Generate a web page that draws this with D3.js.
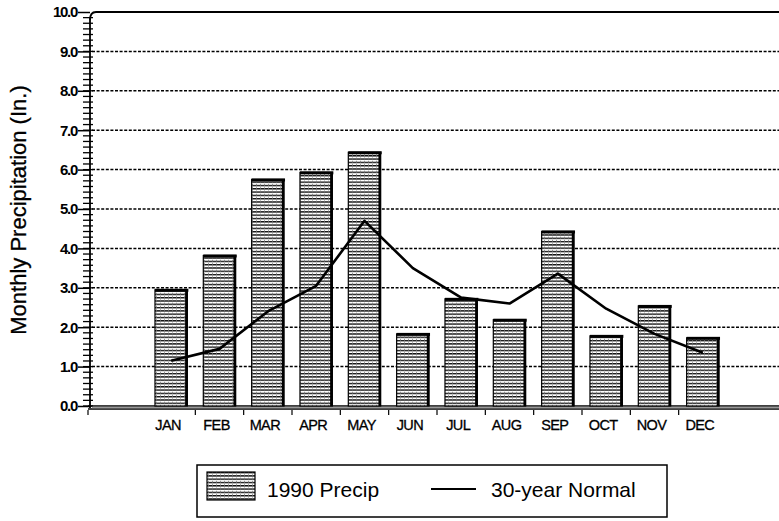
<!DOCTYPE html>
<html>
<head>
<meta charset="utf-8">
<script src="https://cdn.jsdelivr.net/npm/d3@7"></script>
<style>
  body { margin: 0; background: #fff; }
  svg { display: block; font-family: "Liberation Sans", Arial, sans-serif; }
</style>
</head>
<body>
<script>
// data
var months = ["JAN","FEB","MAR","APR","MAY","JUN","JUL","AUG","SEP","OCT","NOV","DEC"];
var precip1990 = [2.95, 3.82, 5.75, 5.93, 6.44, 1.83, 2.72, 2.19, 4.43, 1.78, 2.54, 1.73];
var normal30 = [1.15, 1.45, 2.4, 3.05, 4.7, 3.5, 2.75, 2.6, 3.36, 2.47, 1.83, 1.35];
var yTicks = [0,1,2,3,4,5,6,7,8,9,10];
var seriesNames = ["1990 Precip", "30-year Normal"];

var W = 779, H = 521;
var svg = d3.select("body").append("svg").attr("width", W).attr("height", H);

var defs = svg.append("defs");
var pat = defs.append("pattern").attr("id","hatch")
  .attr("patternUnits","userSpaceOnUse").attr("width",4).attr("height",3.3);
pat.append("rect").attr("width",4).attr("height",3.3).attr("fill","#fff");
pat.append("line").attr("x1",0).attr("x2",4).attr("y1",0.7).attr("y2",0.7)
  .attr("stroke","#000").attr("stroke-width",1.3);
pat.append("line").attr("x1",0.5).attr("x2",0.5).attr("y1",0).attr("y2",3.3)
  .attr("stroke","#777").attr("stroke-width",0.7).attr("stroke-dasharray","1,1.3");

var axisX = 90, plotTop = 12, base = 406;
var y = d3.scaleLinear().domain([0,10]).range([base, plotTop]);
var x = d3.scaleBand().domain(months).range([147, 727]).padding(0);
var barW = x.bandwidth() * 0.67;

// gridlines
svg.append("g").selectAll("line").data(yTicks.filter(function(d){ return d>0 && d<10; }))
  .enter().append("line")
  .attr("x1", axisX+2).attr("x2", W)
  .attr("y1", function(d){ return y(d); }).attr("y2", function(d){ return y(d); })
  .attr("stroke","#000").attr("stroke-width",1.5).attr("stroke-dasharray","3,1.6");

// top border with rounded corner
svg.append("path")
  .attr("d", "M"+axisX+","+(plotTop+8)+" Q"+axisX+","+plotTop+" "+(axisX+6)+","+plotTop+" L"+W+","+plotTop)
  .attr("fill","none").attr("stroke","#000").attr("stroke-width",1.8);

// y axis
var yAxis = d3.axisLeft(y).tickValues(yTicks).tickFormat(d3.format(".1f")).tickSize(12).tickPadding(1);
var gy = svg.append("g").attr("transform","translate("+axisX+",0)").call(yAxis);
gy.select(".domain").remove();
gy.selectAll(".tick line").attr("stroke","#000").attr("stroke-width",1.5);
gy.selectAll(".tick text").attr("fill","#000").attr("font-size",15).attr("font-weight","bold")
  .attr("letter-spacing",-1.3);
svg.append("line").attr("x1",axisX).attr("x2",axisX).attr("y1",plotTop+6).attr("y2",base+2)
  .attr("stroke","#000").attr("stroke-width",1.8);
// minor ticks
var minor = d3.range(0, 70).map(function(i){ return i/7; });
svg.append("g").selectAll("line").data(minor).enter().append("line")
  .attr("x1", axisX-7).attr("x2", axisX+3)
  .attr("y1", function(d){ return y(d); }).attr("y2", function(d){ return y(d); })
  .attr("stroke","#000").attr("stroke-width",1.3);

// floor
svg.append("line").attr("x1",axisX-2).attr("x2",W).attr("y1",base).attr("y2",base)
  .attr("stroke","#000").attr("stroke-width",1.6);
svg.append("line").attr("x1",axisX-2).attr("x2",W).attr("y1",base+3).attr("y2",base+3)
  .attr("stroke","#000").attr("stroke-width",1.4);
svg.append("line").attr("x1",axisX+2).attr("x2",W).attr("y1",base+1.5).attr("y2",base+1.5)
  .attr("stroke","#999").attr("stroke-width",1.5);

// x axis: labels at centres, ticks at boundaries
var xAxis = d3.axisBottom(x).tickSize(0).tickPadding(11);
var gx = svg.append("g").attr("transform","translate(-3,"+(base+3)+")").call(xAxis);
gx.select(".domain").remove();
gx.selectAll(".tick text").attr("fill","#000").attr("font-size",14.5).attr("letter-spacing",-0.6)
  .attr("stroke","#000").attr("stroke-width",0.3);
svg.append("g").selectAll("line").data(months.slice(1)).enter().append("line")
  .attr("x1", function(d){ return x(d); }).attr("x2", function(d){ return x(d); })
  .attr("y1", base+4).attr("y2", base+9)
  .attr("stroke","#000").attr("stroke-width",1.2);
svg.append("line").attr("x1",axisX-2).attr("x2",axisX-2).attr("y1",base+4).attr("y2",base+9)
  .attr("stroke","#000").attr("stroke-width",1.2);

// bars
var bars = svg.append("g").selectAll("g").data(precip1990).enter().append("g");
bars.append("rect")
  .attr("x", function(d,i){ return x(months[i]) + (x.bandwidth()-barW)/2; })
  .attr("y", function(d){ return y(d); })
  .attr("width", barW)
  .attr("height", function(d){ return base - y(d); })
  .attr("fill","url(#hatch)").attr("stroke","#000").attr("stroke-width",1.2);
bars.append("rect")
  .attr("x", function(d,i){ return x(months[i]) + (x.bandwidth()-barW)/2; })
  .attr("y", function(d){ return y(d) - 1; })
  .attr("width", barW + 1)
  .attr("height", 3)
  .attr("fill","#000");
bars.append("line")
  .attr("x1", function(d,i){ return x(months[i]) + (x.bandwidth()+barW)/2 - 1; })
  .attr("x2", function(d,i){ return x(months[i]) + (x.bandwidth()+barW)/2 - 1; })
  .attr("y1", function(d){ return y(d); })
  .attr("y2", base)
  .attr("stroke","#000").attr("stroke-width",2.5);

// 30-year normal line
var line = d3.line()
  .x(function(d,i){ return x(months[i]) + x.bandwidth()/2; })
  .y(function(d){ return y(d); });
svg.append("path").datum(normal30).attr("d", line)
  .attr("fill","none").attr("stroke","#000").attr("stroke-width",2.6).attr("stroke-linejoin","round");

// axis title
svg.append("text").attr("transform","translate(26,210) rotate(-90)")
  .attr("text-anchor","middle").attr("font-size",22).attr("fill","#000")
  .attr("stroke","#000").attr("stroke-width",0.3)
  .text("Monthly Precipitation (In.)");

// legend
var lg = svg.append("g");
lg.append("rect").attr("x",197).attr("y",465).attr("width",470).attr("height",52)
  .attr("fill","#fff").attr("stroke","#000").attr("stroke-width",1.5);
lg.append("rect").attr("x",207).attr("y",472).attr("width",48).attr("height",28)
  .attr("fill","url(#hatch)").attr("stroke","#000").attr("stroke-width",1.2);
lg.append("text").attr("x",267).attr("y",497).attr("font-size",21).attr("fill","#000").text(seriesNames[0]);
lg.append("line").attr("x1",431).attr("x2",476).attr("y1",489).attr("y2",489)
  .attr("stroke","#000").attr("stroke-width",2.2);
lg.append("text").attr("x",491).attr("y",497).attr("font-size",21).attr("fill","#000").text(seriesNames[1]);
</script>
</body>
</html>
